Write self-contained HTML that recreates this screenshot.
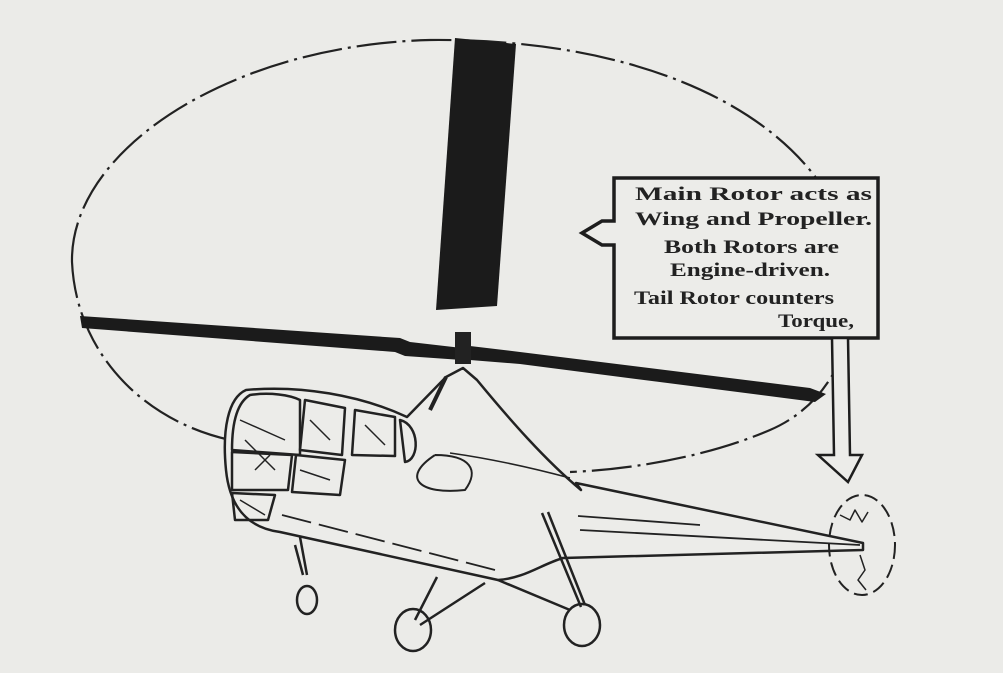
<!DOCTYPE html>
<html><head><style>
html,body{margin:0;padding:0;background:#ebebe8;}
svg{display:block}
text{font-family:"Liberation Serif",serif;font-weight:bold;fill:#222;font-size:19px}
</style></head><body>
<svg width="1003" height="673" viewBox="0 0 1003 673" xmlns="http://www.w3.org/2000/svg">
<rect width="1003" height="673" fill="#ebebe8"/>
<path d="M72,262 C70,150 230,45 430,40 C640,38 800,110 845,230 C870,320 840,400 770,430 C700,460 620,470 570,472 M230,440 C140,420 76,350 72,262" fill="none" stroke="#222" stroke-width="2.2" stroke-dasharray="40 6 3 6"/>
<path d="M455,38 L516,44 L497,306 L436,310 Z" fill="#1b1b1b"/>
<path d="M80,316 L400,338 L410,342 L462,348 L462,360 L405,356 L395,352 L82,328 Z" fill="#1b1b1b"/>
<path d="M470,346 L520,352 L810,388 L826,394 L815,402 L520,364 L470,360 Z" fill="#1b1b1b"/>
<rect x="455" y="332" width="16" height="32" fill="#222"/>
<g fill="none" stroke="#222" stroke-width="2.5" stroke-linejoin="round">
<path d="M246,390 C300,385 360,395 407,417 L446,377 L463,368 L477,380 C510,420 545,460 581,490 L576,483 L863,543 L863,550 L563,558 C540,565 525,578 498,580 L280,532 C250,528 230,510 226,470 C222,430 228,398 246,390 Z" fill="#ecece9"/>
<path d="M446,377 L430,410" stroke-width="4"/>
<path d="M435,455 C470,455 480,470 465,490 C420,495 400,478 435,455" stroke-width="2"/>
<path d="M450,453 C500,460 540,470 570,478" stroke-width="1.5"/>
<path d="M250,395 C270,392 290,395 300,400 L300,455 L232,450 C232,420 238,402 250,395 Z"/>
<path d="M305,400 L345,408 L342,455 L300,450 Z"/>
<path d="M355,410 L395,417 L395,456 L352,455 Z"/>
<path d="M400,420 C420,425 420,460 405,462 Z"/>
<path d="M232,452 L292,455 L288,490 L232,490 Z"/>
<path d="M296,455 L345,460 L340,495 L292,492 Z"/>
<path d="M232,493 L275,495 L268,520 L235,520 Z"/>
<path d="M240,420 L285,440 M245,440 L275,470 M255,470 L270,455 M310,420 L330,440 M300,470 L330,480 M365,425 L385,445 M240,500 L265,515" stroke-width="1.5"/>
<path d="M282,515 L495,570" stroke-dasharray="30 8" stroke-width="1.8"/>
<path d="M580,530 L860,545" stroke-width="1.8"/>
<path d="M578,516 L700,525" stroke-width="1.8"/>
<path d="M300,537 L307,575 M295,545 L303,575"/>
<ellipse cx="307" cy="600" rx="10" ry="14"/>
<path d="M485,583 L420,625 M437,577 L415,620"/>
<ellipse cx="413" cy="630" rx="18" ry="21"/>
<path d="M542,513 L581,607 M548,512 L585,605"/>
<ellipse cx="582" cy="625" rx="18" ry="21"/>
<path d="M498,580 L570,610"/>
<ellipse cx="862" cy="545" rx="33" ry="50" stroke-dasharray="14 6" stroke-width="2"/>
<path d="M840,515 L850,520 L855,510 L862,522 L868,512 M860,555 L865,570 L858,580 L866,590" stroke-width="1.5"/>
</g>
<path d="M614,178 L878,178 L878,338 L614,338 L614,245 L602,245 L582,233 L602,221 L614,221 Z" fill="#ecece9" stroke="#1d1d1d" stroke-width="3.5"/>
<path d="M832,338 L848,338 L850,455 L862,455 L848,482 L818,455 L834,455 Z" fill="#ecece9" stroke="#1d1d1d" stroke-width="2.5"/>
<text x="635" y="200" textLength="237" lengthAdjust="spacingAndGlyphs">Main  Rotor  acts  as</text>
<text x="635" y="225" textLength="237" lengthAdjust="spacingAndGlyphs">Wing  and  Propeller.</text>
<text x="664" y="253" textLength="175" lengthAdjust="spacingAndGlyphs">Both Rotors are</text>
<text x="670" y="276" textLength="160" lengthAdjust="spacingAndGlyphs">Engine-driven.</text>
<text x="634" y="304" textLength="200" lengthAdjust="spacingAndGlyphs">Tail Rotor counters</text>
<text x="778" y="327" textLength="76" lengthAdjust="spacingAndGlyphs">Torque,</text>
</svg>
</body></html>
